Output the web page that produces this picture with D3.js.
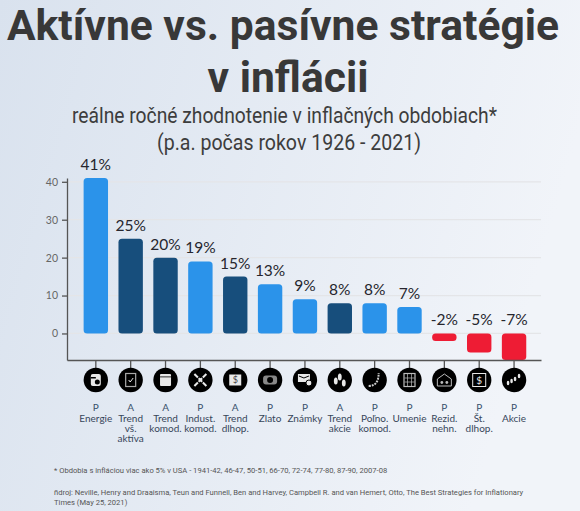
<!DOCTYPE html>
<html><head><meta charset="utf-8">
<script src="https://cdnjs.cloudflare.com/ajax/libs/d3/7.8.5/d3.min.js"></script>
<style>html,body{margin:0;padding:0;overflow:hidden}svg{display:block}</style>
</head><body><svg id="c" width="580" height="511"></svg>
<script>
const categories=["Energie","Trend vš. aktíva","Trend komod.","Indust. komod.","Trend dlhop.","Zlato","Známky","Trend akcie","Poľno. komod.","Umenie","Rezid. nehn.","Št. dlhop.","Akcie"];
const values=[41,25,20,19,15,13,9,8,8,7,-2,-5,-7];
const kinds=["P","A","A","P","A","P","P","A","P","P","P","P","P"];
const labelLines=[["Energie"],["Trend","vš.","aktíva"],["Trend","komod."],["Indust.","komod."],["Trend","dlhop."],["Zlato"],["Známky"],["Trend","akcie"],["Poľno.","komod."],["Umenie"],["Rezid.","nehn."],["Št.","dlhop."],["Akcie"]];
const yTicks=[0,10,20,30,40];
const titleLines=["Aktívne vs. pasívne stratégie","v inflácii"];
const subtitleLines=["reálne ročné zhodnotenie v inflačných obdobiach*","(p.a. počas rokov 1926 - 2021)"];
const footnote="* Obdobia s infláciou viac ako 5% v USA - 1941-42, 46-47, 50-51, 66-70, 72-74, 77-80, 87-90, 2007-08";
const sourceLines=["ñdroj: Neville, Henry and Draaisma, Teun and Funnell, Ben and Harvey, Campbell R. and van Hemert, Otto, The Best Strategies for Inflationary","Times (May 25, 2021)"];

const svg=d3.select("#c");
const defs=svg.append("defs");
const g=defs.append("linearGradient").attr("id","bg").attr("x1","0").attr("y1","0").attr("x2","1").attr("y2","0.25");
g.append("stop").attr("offset","0").attr("stop-color","#d9e2ee");
g.append("stop").attr("offset","1").attr("stop-color","#f1f4f9");
svg.append("rect").attr("width",580).attr("height",511).attr("fill","url(#bg)");

const x=d3.scaleBand().domain(d3.range(categories.length)).range([67,541]).paddingInner(.3).paddingOuter(.45).align(.53);
const y=d3.scaleLinear().domain([-7,41]).range([360,178]);
const font="Lato";

// titles
svg.selectAll(".t").data(titleLines).join("text").attr("x",(d,i)=>[283,288][i]).attr("y",(d,i)=>40+i*52)
 .attr("text-anchor","middle").attr("font-family","Roboto").attr("font-weight",700).attr("font-size",42.6).attr("fill","#383838").text(d=>d);
const subW=[425,264];
svg.selectAll(".s").data(subtitleLines).join("text").attr("x",(d,i)=>[72,157][i]).attr("y",(d,i)=>123+i*27)
 .attr("font-family","Roboto").attr("font-size",22.5).attr("fill","#3d3d3d")
 .attr("textLength",(d,i)=>subW[i]).attr("lengthAdjust","spacingAndGlyphs").text(d=>d);

// grid
svg.append("g").selectAll("line").data(yTicks).join("line")
 .attr("x1",67).attr("x2",541).attr("y1",d=>y(d)).attr("y2",d=>y(d)).attr("stroke","#e4e5e8").attr("stroke-width",1.2);

// bars
const color=(d,i)=>d<0?"#ee1c34":kinds[i]==="A"?"#174e7c":"#2b93ea";
svg.append("g").selectAll("rect").data(values).join("rect")
 .attr("x",(d,i)=>x(i)).attr("width",x.bandwidth())
 .attr("y",d=>y(Math.max(d,0))).attr("height",d=>Math.abs(y(d)-y(0)))
 .attr("rx",3.5).attr("fill",color);

// axes
const ay=svg.append("g").attr("transform","translate(67,0)").call(d3.axisLeft(y).tickValues(yTicks).tickSize(5).tickSizeOuter(0).tickPadding(4));
const ax=svg.append("g").attr("transform","translate(0,360)").call(d3.axisBottom(x).tickSize(8).tickSizeOuter(0).tickFormat(""));
[ay,ax].forEach(a=>{a.selectAll("path,line").attr("stroke","#555").attr("stroke-width",1.3);});
ay.selectAll("text").attr("font-family",font).attr("font-size",10.5).attr("fill","#666");

// value labels
svg.append("g").selectAll("text").data(values).join("text")
 .attr("x",(d,i)=>x(i)+x.bandwidth()/2).attr("y",d=>y(Math.max(d,0))-8)
 .attr("text-anchor","middle").attr("font-family",font).attr("font-size",15.5).attr("fill","#26262e").text(d=>d+"%");

// icons
const icons=svg.append("g").selectAll("g").data(values).join("g")
 .attr("transform",(d,i)=>`translate(${x(i)+x.bandwidth()/2},380)`);
icons.append("circle").attr("r",12.2).attr("fill","#000");
const W="#e8e8e8";
const drawers=[
 s=>{s.append("rect").attr("x",-5).attr("y",-6).attr("width",10).attr("height",12).attr("rx",2).attr("fill",W);s.append("rect").attr("x",-5).attr("y",-3).attr("width",5).attr("height",1.5).attr("fill","#000");s.append("circle").attr("cx",1.5).attr("cy",2).attr("r",2.5).attr("fill","#000");},
 s=>{s.append("rect").attr("x",-5).attr("y",-6.5).attr("width",10).attr("height",13).attr("fill","none").attr("stroke","#aaa").attr("stroke-width",1.2);s.append("path").attr("d","M-2 0l1.5 2 3-4").attr("fill","none").attr("stroke",W);},
 s=>{s.append("rect").attr("x",-5.5).attr("y",-6).attr("width",11).attr("height",12).attr("rx",1).attr("fill",W);s.append("rect").attr("x",-5.5).attr("y",-3.5).attr("width",11).attr("height",.8).attr("fill","#000");},
 s=>{s.append("path").attr("d","M-6 -6L6 6M6 -6L-6 6").attr("stroke",W).attr("stroke-width",2).attr("stroke-dasharray","5 1");},
 s=>{s.append("rect").attr("x",-6).attr("y",-5.5).attr("width",12).attr("height",11).attr("fill",W);s.append("text").attr("text-anchor","middle").attr("y",3).attr("font-size",9).attr("font-family",font).attr("fill","#444").text("$");},
 s=>{s.append("rect").attr("x",-7).attr("y",-4.5).attr("width",14).attr("height",9).attr("rx",3).attr("fill","#888");s.append("circle").attr("r",3).attr("fill","#000");},
 s=>{s.append("rect").attr("x",-7).attr("y",-6).attr("width",12).attr("height",8).attr("fill",W);s.append("path").attr("d","M-6 -4L-1 -2L4 -4").attr("stroke","#000").attr("fill","none");s.append("circle").attr("cx",4).attr("cy",3).attr("r",3).attr("fill",W).attr("stroke","#000");},
 s=>{[[-4,1],[0,-3],[4,3]].forEach(p=>s.append("ellipse").attr("cx",p[0]).attr("cy",p[1]).attr("rx",1.9).attr("ry",3.6).attr("fill",W));},
 s=>{s.append("path").attr("d","M-6 6C2 6 4 0 4 -7").attr("fill","none").attr("stroke","#ccc").attr("stroke-width",2).attr("stroke-dasharray","2 1");},
 s=>{s.append("rect").attr("x",-5.5).attr("y",-6.5).attr("width",11).attr("height",13).attr("fill","none").attr("stroke","#bbb").attr("stroke-width",1.2);s.append("path").attr("d","M-2 -6V6M2 -6V6M-5 -2H5M-5 2H5").attr("stroke","#bbb").attr("stroke-width",.7);},
 s=>{s.append("path").attr("d","M-7 -1L0 -6L7 -1V6H-7Z").attr("fill","none").attr("stroke","#bbb");s.append("circle").attr("cx",-2.5).attr("cy",2.5).attr("r",1.4).attr("fill","#bbb");s.append("circle").attr("cx",2.5).attr("cy",2.5).attr("r",1.4).attr("fill","#bbb");},
 s=>{s.append("rect").attr("x",-6.5).attr("y",-6.5).attr("width",13).attr("height",13).attr("fill","none").attr("stroke",W).attr("stroke-width",1);s.append("text").attr("text-anchor","middle").attr("y",3.5).attr("font-size",10).attr("font-family",font).attr("fill",W).text("$");},
 s=>{[[-6,3],[-2.5,1],[1,-1],[5,-4]].forEach(p=>s.append("ellipse").attr("cx",p[0]).attr("cy",p[1]).attr("rx",1.3).attr("ry",2.3).attr("fill",W));}
];
icons.each(function(d,i){drawers[i](d3.select(this));});

// category labels
const lab=svg.append("g").selectAll("text").data(categories).join("text")
 .attr("text-anchor","middle").attr("font-family",font).attr("font-size",10);
lab.each(function(d,i){
 const t=d3.select(this),cx=x(i)+x.bandwidth()/2;
 t.append("tspan").attr("x",cx).attr("y",411).attr("fill","#37506b").text(kinds[i]);
 labelLines[i].forEach((l,j)=>t.append("tspan").attr("x",cx).attr("y",421.5+j*10.3).attr("fill","#37465a").text(l));
});

// notes
svg.append("text").attr("x",54).attr("y",473).attr("font-family","Roboto").attr("font-size",7.6).attr("fill","#555").text(footnote);
svg.selectAll(".src").data(sourceLines).join("text").attr("x",54).attr("y",(d,i)=>494.5+i*10.5).attr("font-family","Roboto").attr("font-size",7.6).attr("fill","#555").text(d=>d);
</script></body></html>
